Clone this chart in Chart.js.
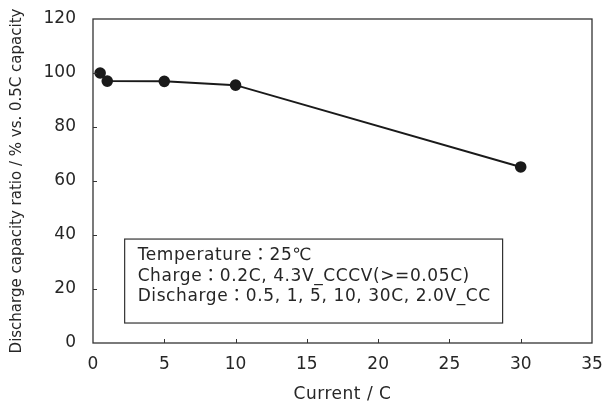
<!DOCTYPE html>
<html>
<head>
<meta charset="utf-8">
<script src="https://cdn.jsdelivr.net/npm/chart.js@4.4.0/dist/chart.umd.min.js"></script>
<style>
  html, body { margin: 0; padding: 0; background: #fff; }
  #wrap { width: 606px; height: 408px; }
</style>
</head>
<body>
<div id="wrap"><canvas id="c" width="606" height="408"></canvas></div>
<script>
// Discharge rate (C) and capacity ratio (%) relative to 0.5C
const currentC = [0.5, 1, 5, 10, 30];
const capacityRatio = [100, 97.0, 96.9, 95.5, 65.2];
const xTicks = [0, 5, 10, 15, 20, 25, 30, 35];
const yTicks = [0, 20, 40, 60, 80, 100, 120];
const xTitle = 'Current / C';
const yTitle = 'Discharge capacity ratio / % vs. 0.5C capacity';
const noteLines = [
  'Temperature：25℃',
  'Charge：0.2C, 4.3V_CCCV(>=0.05C)',
  'Discharge：0.5, 1, 5, 10, 30C, 2.0V_CC'
];

const FONT = '"DejaVu Sans", "Noto Sans CJK JP", sans-serif';
const INK = '#262626';

// Frame, inward tick marks, tick labels and axis titles
const axesPlugin = {
  id: 'axesDeco',
  afterDraw(chart) {
    const { ctx, chartArea: a, scales } = chart;
    ctx.save();
    ctx.strokeStyle = '#333';
    ctx.lineWidth = 1.3;
    ctx.strokeRect(a.left, a.top, a.right - a.left, a.bottom - a.top);

    ctx.lineWidth = 1;
    ctx.beginPath();
    xTicks.slice(1, -1).forEach(v => {
      const x = Math.round(scales.x.getPixelForValue(v)) + 0.5;
      ctx.moveTo(x, a.bottom);
      ctx.lineTo(x, a.bottom - 4);
    });
    yTicks.slice(1, -1).forEach(v => {
      const y = Math.round(scales.y.getPixelForValue(v)) + 0.5;
      ctx.moveTo(a.left, y);
      ctx.lineTo(a.left + 4, y);
    });
    ctx.stroke();

    ctx.fillStyle = INK;
    ctx.font = '17px ' + FONT;
    ctx.textBaseline = 'middle';
    ctx.textAlign = 'center';
    xTicks.forEach(v => {
      ctx.fillText(String(v), scales.x.getPixelForValue(v), a.bottom + 22);
    });
    ctx.textAlign = 'right';
    yTicks.forEach(v => {
      ctx.fillText(String(v), a.left - 17, scales.y.getPixelForValue(v));
    });

    ctx.textAlign = 'center';
    ctx.letterSpacing = '0.5px';
    ctx.fillText(xTitle, (a.left + a.right) / 2, a.bottom + 52);
    ctx.letterSpacing = '0px';

    ctx.font = '15px ' + FONT;
    ctx.translate(17.5, (a.top + a.bottom) / 2);
    ctx.rotate(-Math.PI / 2);
    ctx.fillText(yTitle, 0, 0);
    ctx.restore();
  }
};

// Test-condition note box, anchored in data coordinates
const notePlugin = {
  id: 'note',
  afterDatasetsDraw(chart) {
    const { ctx, scales } = chart;
    const x0 = scales.x.getPixelForValue(2.22);
    const x1 = scales.x.getPixelForValue(28.73);
    const y0 = scales.y.getPixelForValue(38.5);
    const y1 = scales.y.getPixelForValue(7.4);
    ctx.save();
    ctx.fillStyle = '#fff';
    ctx.fillRect(x0, y0, x1 - x0, y1 - y0);
    ctx.strokeStyle = '#333';
    ctx.lineWidth = 1.2;
    ctx.strokeRect(x0, y0, x1 - x0, y1 - y0);
    ctx.fillStyle = INK;
    ctx.font = '17px ' + FONT;
    ctx.letterSpacing = '0.6px';
    ctx.textBaseline = 'middle';
    noteLines.forEach((t, i) => {
      ctx.fillText(t, x0 + 13, y0 + 17 + i * 20.5);
    });
    ctx.restore();
  }
};

new Chart(document.getElementById('c'), {
  type: 'scatter',
  data: {
    datasets: [{
      data: currentC.map((x, i) => ({ x, y: capacityRatio[i] })),
      showLine: true,
      borderColor: '#1a1a1a',
      backgroundColor: '#1a1a1a',
      borderWidth: 2,
      pointRadius: 4.8,
      pointHoverRadius: 4.8,
      tension: 0
    }]
  },
  options: {
    responsive: false,
    animation: false,
    events: [],
    layout: { padding: { top: 19, right: 14, left: 0, bottom: 0 } },
    plugins: { legend: { display: false }, tooltip: { enabled: false } },
    scales: {
      x: {
        type: 'linear',
        min: 0, max: 35,
        afterBuildTicks(s) { s.ticks = xTicks.map(v => ({ value: v })); },
        afterFit(s) { s.height = 65; },
        grid: { display: false, drawTicks: false },
        border: { display: false },
        ticks: { display: false }
      },
      y: {
        type: 'linear',
        min: 0, max: 120,
        afterBuildTicks(s) { s.ticks = yTicks.map(v => ({ value: v })); },
        afterFit(s) { s.width = 93; },
        grid: { display: false, drawTicks: false },
        border: { display: false },
        ticks: { display: false }
      }
    }
  },
  plugins: [axesPlugin, notePlugin]
});
</script>
</body>
</html>
